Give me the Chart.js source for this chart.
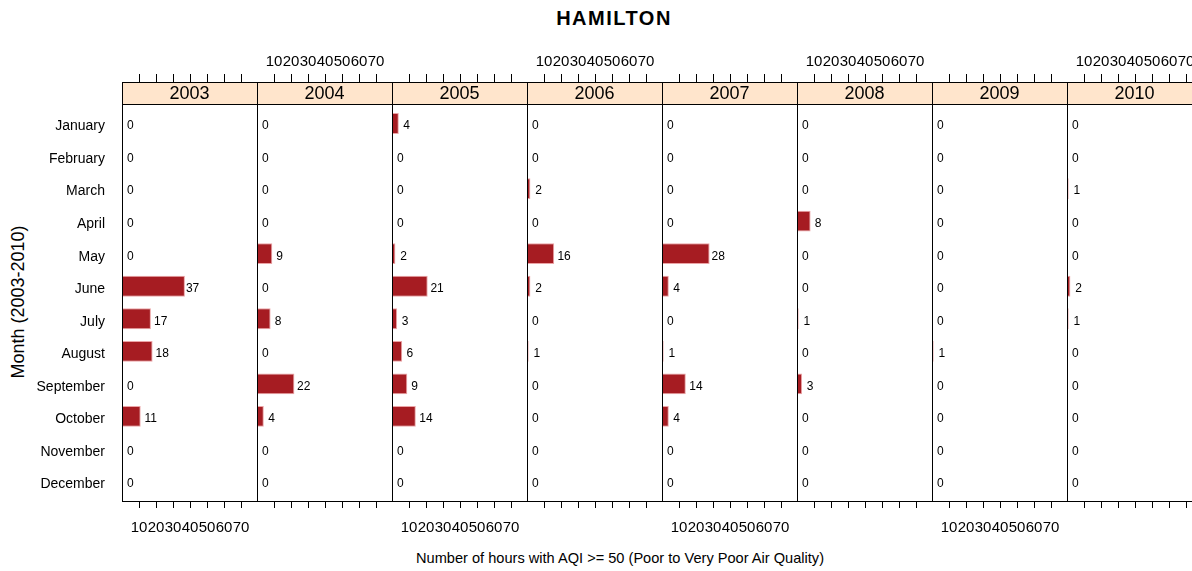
<!DOCTYPE html>
<html>
<head>
<meta charset="utf-8">
<script src="https://cdn.jsdelivr.net/npm/chart.js@4/dist/chart.umd.min.js"></script>
<style>
  html, body { margin: 0; padding: 0; background: #fff; overflow: hidden; }
  body { width: 1192px; height: 571px; position: relative; font-family: "Liberation Sans", Arial, sans-serif; }
  canvas { position: absolute; top: 0; }
  .txt { position: absolute; white-space: nowrap; color: #000; }
  #title { left: 614px; top: 18px; transform: translate(-50%, -50%); font-weight: bold; font-size: 20px; letter-spacing: 1.5px; }
  #xtitle { left: 620px; top: 558px; transform: translate(-50%, -50%); font-size: 14.6px; }
  #ytitle { left: 18px; top: 302px; transform: translate(-50%, -50%) rotate(-90deg); font-size: 18px; }
</style>
</head>
<body>
<div id="title" class="txt">HAMILTON</div>
<div id="ytitle" class="txt">Month (2003-2010)</div>
<div id="xtitle" class="txt">Number of hours with AQI &gt;= 50 (Poor to Very Poor Air Quality)</div>

<script>
// Datos: meses, años y horas por año
const months = ['January', 'February', 'March', 'April', 'May', 'June',
    'July', 'August', 'September', 'October', 'November', 'December'];
const years = ['2003', '2004', '2005', '2006', '2007', '2008', '2009', '2010'];
const hours2003 = [0, 0, 0, 0, 0, 37, 17, 18, 0, 11, 0, 0];
const hours2004 = [0, 0, 0, 0, 9, 0, 8, 0, 22, 4, 0, 0];
const hours2005 = [4, 0, 0, 0, 2, 21, 3, 6, 9, 14, 0, 0];
const hours2006 = [0, 0, 2, 0, 16, 2, 0, 1, 0, 0, 0, 0];
const hours2007 = [0, 0, 0, 0, 28, 4, 0, 1, 14, 4, 0, 0];
const hours2008 = [0, 0, 0, 8, 0, 0, 1, 0, 3, 0, 0, 0];
const hours2009 = [0, 0, 0, 0, 0, 0, 0, 1, 0, 0, 0, 0];
const hours2010 = [0, 0, 1, 0, 0, 2, 1, 0, 0, 0, 0, 0];
const xTickValues = [10, 20, 30, 40, 50, 60, 70];

const hoursByYear = [hours2003, hours2004, hours2005, hours2006, hours2007, hours2008, hours2009, hours2010];

Chart.defaults.font.family = '"Liberation Sans", Arial, sans-serif';
Chart.defaults.color = '#000';

const FONT = '"Liberation Sans", Arial, sans-serif';
const PANEL_LEFT = 122, PANEL_W = 135;
const STRIP_H = 22;

// Tira con el año + marco del panel
const stripPlugin = {
    id: 'strip',
    afterDraw(chart, args, opts) {
        const { left, right, top, bottom } = chart.chartArea;
        const ctx = chart.ctx;
        ctx.save();
        ctx.fillStyle = '#FFE5CC';
        ctx.fillRect(left, top - STRIP_H, right - left, STRIP_H);
        ctx.strokeStyle = '#000';
        ctx.lineWidth = 1;
        ctx.strokeRect(left + 0.5, top - STRIP_H + 0.5, right - left, STRIP_H);
        ctx.strokeRect(left + 0.5, top + 0.5, right - left, bottom - top);
        ctx.fillStyle = '#000';
        ctx.font = '18px ' + FONT;
        ctx.textAlign = 'center';
        ctx.textBaseline = 'middle';
        ctx.fillText(opts.year, (left + right) / 2, top - STRIP_H / 2 + 1);
        ctx.restore();
    }
};

// Etiquetas de valor junto a cada barra
const valueLabels = {
    id: 'valueLabels',
    afterDatasetsDraw(chart) {
        const ctx = chart.ctx;
        const meta = chart.getDatasetMeta(0);
        const vals = chart.data.datasets[0].data;
        ctx.save();
        ctx.font = '12px ' + FONT;
        ctx.fillStyle = '#000';
        ctx.textBaseline = 'middle';
        ctx.textAlign = 'left';
        meta.data.forEach((bar, i) => {
            const v = vals[i].x;
            const off = Math.max(1, 5 - v * 0.11);
            ctx.fillText(String(v), bar.x + off, bar.y + 2.5);
        });
        ctx.restore();
    }
};

const setTicks = s => { s.ticks = xTickValues.map(v => ({ value: v })); };
const noPad = s => { s.paddingLeft = 0; s.paddingRight = 0; s.paddingTop = 0; s.paddingBottom = 0; };

years.forEach((year, i) => {
    const first = i === 0;
    const canvas = document.createElement('canvas');
    const w = (first ? PANEL_LEFT : 0) + PANEL_W + 1;
    canvas.width = w;
    canvas.height = 571;
    canvas.style.left = (first ? 0 : PANEL_LEFT + PANEL_W * i) + 'px';
    canvas.style.width = w + 'px';
    canvas.style.height = '571px';
    document.body.appendChild(canvas);

    const showBottom = i % 2 === 0;

    new Chart(canvas, {
        type: 'bar',
        data: {
            datasets: [{
                label: year,
                data: hoursByYear[i].map((v, m) => ({ x: v, y: m })),
                backgroundColor: '#A61C22',
                borderColor: '#EBA4A6',
                borderWidth: 1,
                borderSkipped: 'start',
                barPercentage: 0.64,
                categoryPercentage: 1,
                xAxisID: 'x',
                yAxisID: 'y'
            }]
        },
        options: {
            indexAxis: 'y',
            responsive: false,
            animation: false,
            events: [],
            layout: { padding: { left: 0, right: 1, top: 0, bottom: 0 } },
            plugins: {
                legend: { display: false },
                tooltip: { enabled: false },
                strip: { year: year }
            },
            scales: {
                x: {
                    type: 'linear', position: 'bottom',
                    min: 0, max: 79.4,
                    afterBuildTicks: setTicks,
                    afterFit: s => { s.height = 70; noPad(s); },
                    grid: { display: true, drawOnChartArea: false, drawTicks: true, tickLength: 7, color: '#000', lineWidth: 1 },
                    border: { display: true, color: '#000', width: 1 },
                    ticks: { autoSkip: false, maxRotation: 0, padding: 11, font: { size: 15 },
                        color: showBottom ? '#000' : 'rgba(0,0,0,0)' }
                },
                x2: {
                    type: 'linear', position: 'top',
                    min: 0, max: 79.4,
                    afterBuildTicks: setTicks,
                    afterFit: s => { s.height = 104; noPad(s); },
                    grid: { display: true, drawOnChartArea: false, drawTicks: true, tickLength: 30, color: '#000', lineWidth: 1 },
                    border: { display: true, color: '#000', width: 1 },
                    ticks: { autoSkip: false, maxRotation: 0, padding: 3, font: { size: 15 },
                        color: showBottom ? 'rgba(0,0,0,0)' : '#000' }
                },
                y: {
                    type: 'linear', reverse: true,
                    min: -0.6, max: 11.6,
                    offset: false,
                    display: first,
                    afterFit: s => { if (first) s.width = PANEL_LEFT; noPad(s); },
                    grid: { display: false, offset: false },
                    border: { display: false },
                    ticks: {
                        stepSize: 1, includeBounds: false, autoSkip: false, padding: 9,
                        labelOffset: 3,
                        font: { size: 14 },
                        callback: v => months[v] ?? ''
                    }
                }
            }
        },
        plugins: [valueLabels, stripPlugin]
    });
});
</script>
</body>
</html>
